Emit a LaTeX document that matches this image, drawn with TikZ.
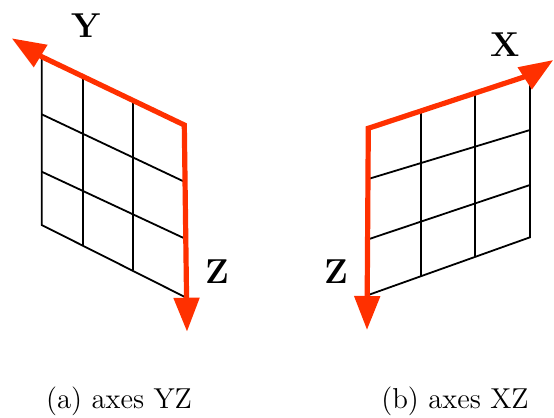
\documentclass[tikz,border=0pt]{standalone}
\usetikzlibrary{arrows.meta}
\definecolor{axred}{RGB}{255,48,0}
\begin{document}
\begin{tikzpicture}[x=0.5pt,y=-0.5pt,
  gridline/.style={black,line width=0.9pt},
  axis/.style={axred,line width=2.6pt,line join=miter,{Triangle[length=17pt,width=12.5pt]}-{Triangle[length=17pt,width=12.5pt]}},
  axlabel/.style={font=\LARGE\bfseries,inner sep=0pt},
  caption/.style={font=\Large,inner sep=0pt}]
\useasboundingbox (0,0) rectangle (554,418);
% ---- left grid (YZ) ----
\coordinate (a00) at (41.7,56.7);
\coordinate (a01) at (41.7,114.3);
\coordinate (a02) at (41.7,171.7);
\coordinate (a03) at (41.7,225);
\coordinate (a30) at (184.3,125);
\coordinate (a31) at (184.3,181.7);
\coordinate (a32) at (184.3,238.3);
\coordinate (a33) at (184.3,296.7);
\coordinate (a10) at (83.3,77.3);
\coordinate (a13) at (83.3,245);
\coordinate (a20) at (133.3,101.7);
\coordinate (a23) at (133.3,270);
\draw[gridline] (a00) -- (a03) -- (a33);
\draw[gridline] (a01) -- (a31);
\draw[gridline] (a02) -- (a32);
\draw[gridline] (a10) -- (a13);
\draw[gridline] (a20) -- (a23);
\coordinate (ytip) at (11.7,38.3);
\coordinate (zatip) at (187,331.7);
\draw[axis] (ytip) -- (a00) -- (a30) -- (zatip);
\node[axlabel] (ylab) at (86,26) {Y};
\node[axlabel] (zalab) at (217,272) {Z};
% ---- right grid (XZ) ----
\coordinate (b00) at (368.3,128.3);
\coordinate (b01) at (368.3,179);
\coordinate (b02) at (368.3,239.3);
\coordinate (b03) at (368.3,295);
\coordinate (b30) at (530,75);
\coordinate (b31) at (530,130);
\coordinate (b32) at (530,185);
\coordinate (b33) at (530,237.3);
\coordinate (b10) at (421,113.3);
\coordinate (b13) at (421,276.7);
\coordinate (b20) at (475,95);
\coordinate (b23) at (475,256.7);
\draw[gridline] (b30) -- (b33) -- (b03);
\draw[gridline] (b01) -- (b31);
\draw[gridline] (b02) -- (b32);
\draw[gridline] (b10) -- (b13);
\draw[gridline] (b20) -- (b23);
\coordinate (xtip) at (553.3,60);
\coordinate (zbtip) at (367,330);
\draw[axis] (xtip) -- (b30) -- (b00) -- (zbtip);
\node[axlabel] (xlab) at (505,45) {X};
\node[axlabel] (zblab) at (336,272) {Z};
% ---- captions ----
\node[caption] (capa) at (119,401) {(a) axes YZ};
\node[caption] (capb) at (455,401) {(b) axes XZ};
\end{tikzpicture}
\end{document}
